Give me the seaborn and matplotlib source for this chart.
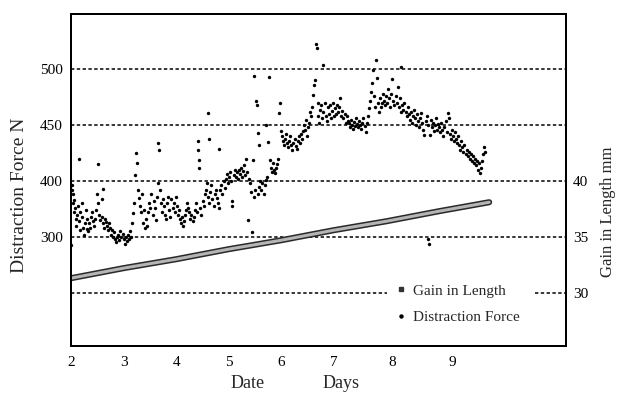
import matplotlib
matplotlib.use("Agg")
import matplotlib.pyplot as plt
import seaborn as sns
from matplotlib import patheffects as pe
from matplotlib.lines import Line2D

# ---------------- data ----------------
force_days = [
    2.00, 2.01, 2.02, 2.03, 2.04, 2.05, 2.06, 2.08, 2.09, 2.10, 2.12, 2.13, 2.15, 2.15, 2.17, 2.18, 2.20, 2.21, 2.23, 2.25,
    2.26, 2.28, 2.30, 2.31, 2.33, 2.35, 2.37, 2.38, 2.40, 2.42, 2.44, 2.46, 2.48, 2.50, 2.51, 2.52, 2.54, 2.56, 2.58, 2.59,
    2.60, 2.61, 2.62, 2.64, 2.66, 2.68, 2.70, 2.72, 2.74, 2.76, 2.78, 2.80, 2.82, 2.84, 2.86, 2.88, 2.90, 2.92, 2.94, 2.96,
    2.98,
    3.00, 3.02, 3.04, 3.06, 3.08, 3.10, 3.12, 3.14, 3.16, 3.18, 3.20, 3.22, 3.23, 3.25, 3.27, 3.29, 3.31, 3.33, 3.35, 3.37,
    3.39, 3.41, 3.43, 3.45, 3.47, 3.49, 3.51, 3.53, 3.55, 3.57, 3.59, 3.61, 3.63, 3.65, 3.66, 3.67, 3.69, 3.71, 3.73, 3.75,
    3.77, 3.79, 3.81, 3.83, 3.85, 3.87, 3.89,
    3.91, 3.93, 3.95, 3.97, 3.99, 4.01, 4.03, 4.05, 4.07, 4.09, 4.11, 4.13, 4.15, 4.17, 4.19, 4.21, 4.23, 4.25, 4.27, 4.29,
    4.31, 4.33, 4.35, 4.37, 4.39, 4.41, 4.42, 4.43, 4.44, 4.46, 4.48,
    4.50, 4.52, 4.54, 4.56, 4.58, 4.60, 4.61, 4.62, 4.63, 4.65, 4.67, 4.69, 4.71, 4.73, 4.75, 4.77, 4.79, 4.81, 4.82, 4.84,
    4.86, 4.88, 4.90, 4.92, 4.94, 4.96, 4.98, 5.00, 5.02, 5.04, 5.06, 5.07, 5.09, 5.11, 5.13, 5.15, 5.17, 5.19, 5.21, 5.23,
    5.25, 5.27, 5.29, 5.31, 5.33, 5.35, 5.37, 5.38,
    5.40, 5.42, 5.44, 5.46, 5.47, 5.48, 5.50, 5.52, 5.53, 5.55, 5.56, 5.57, 5.58, 5.60, 5.62, 5.64, 5.66, 5.68, 5.70, 5.71,
    5.73, 5.75, 5.76, 5.78, 5.80, 5.82, 5.84, 5.86, 5.88, 5.90,
    5.92, 5.94, 5.96, 5.97, 5.99, 6.01, 6.03, 6.05, 6.07, 6.09, 6.11, 6.13, 6.15, 6.17, 6.19, 6.21, 6.23, 6.25, 6.27, 6.29,
    6.31, 6.33, 6.35, 6.37, 6.39, 6.41, 6.43, 6.45, 6.47, 6.49, 6.51,
    6.53, 6.55, 6.57, 6.59, 6.61, 6.62, 6.64, 6.66, 6.67, 6.69, 6.70, 6.72, 6.74, 6.76, 6.78, 6.79, 6.80, 6.82, 6.84, 6.86,
    6.88, 6.90, 6.92, 6.94, 6.96, 6.98, 7.00, 7.02, 7.04, 7.06, 7.08, 7.10, 7.12, 7.14, 7.16, 7.18, 7.20, 7.22, 7.24, 7.26,
    7.28, 7.30, 7.32, 7.34, 7.36, 7.38, 7.40, 7.42, 7.44, 7.46, 7.48, 7.50, 7.52, 7.54, 7.56, 7.58, 7.60, 7.62, 7.64, 7.66,
    7.68, 7.70, 7.72, 7.74, 7.76, 7.78, 7.80, 7.81, 7.83, 7.85, 7.87, 7.89, 7.91, 7.93, 7.95, 7.97, 7.99, 8.01, 8.03, 8.05,
    8.07, 8.09, 8.11, 8.13, 8.15, 8.17, 8.19, 8.21, 8.23, 8.25, 8.27, 8.28, 8.30, 8.32,
    8.34, 8.36, 8.38, 8.40, 8.42, 8.44, 8.46, 8.48, 8.50, 8.52, 8.54, 8.56, 8.58, 8.60, 8.62, 8.64, 8.66, 8.68, 8.70, 8.72,
    8.74, 8.76, 8.78, 8.79, 8.80, 8.82, 8.84, 8.86, 8.88, 8.90, 8.92, 8.94, 8.96, 8.98,
    9.00, 9.02, 9.04, 9.06, 9.08, 9.10, 9.12, 9.14, 9.16, 9.18, 9.20, 9.22, 9.24, 9.26, 9.28, 9.30, 9.32, 9.34, 9.36, 9.38,
    9.40, 9.42, 9.44, 9.46, 9.48, 9.50, 9.52, 9.54, 9.56, 9.58, 9.60, 9.62, 9.64, 9.66, 9.68, 9.70, 9.72, 9.74, 9.76, 9.78,
    9.80, 9.82, 9.84, 9.86, 9.88,
]
force_values = [
    343, 396, 392, 388, 380, 372, 383, 376, 366, 360, 370, 378, 420, 364, 356, 372, 380, 368, 358, 352,
    362, 374, 366, 357, 355, 362, 358, 368, 372, 364, 360, 366, 374, 388, 415, 380, 370, 365, 368, 384,
    362, 393, 358, 366, 363, 360, 356, 362, 358, 352, 356, 350, 354, 348, 345, 350, 352, 347, 355, 350,
    353,
    348, 344, 350, 346, 352, 348, 355, 350, 362, 371, 380, 405, 425, 416, 392, 385, 378, 372, 388, 362,
    374, 358, 366, 360, 372, 380, 376, 388, 370, 382, 376, 365, 386, 398, 434, 428, 392, 380, 372, 384,
    378, 370, 366, 380, 386, 374, 368,
    384, 376, 380, 372, 386, 378, 370, 374, 366, 362, 368, 360, 364, 370, 374, 380, 376, 372, 366, 370,
    364, 368, 374, 380, 372, 436, 428, 419, 412, 376, 370,
    382, 378, 388, 392, 398, 461, 386, 438, 380, 390, 396, 384, 378, 388, 392, 385, 380, 429, 376, 392,
    396, 388, 400, 394, 402, 406, 398, 404, 408, 400, 378, 382, 405, 410, 404, 408, 402, 410, 406, 412,
    404, 409, 414, 405, 420, 408, 365, 402,
    398, 390, 354, 419, 386, 494, 392, 472, 468, 388, 443, 432, 395, 400, 392, 398, 388, 396, 450, 401,
    404, 435, 493, 419, 412, 408, 416, 410, 407, 412,
    415, 420, 461, 470, 445, 440, 436, 432, 438, 442, 434, 430, 436, 440, 432, 428, 434, 438, 431, 429,
    436, 440, 434, 442, 438, 445, 450, 446, 455, 440, 448,
    452, 462, 458, 466, 477, 486, 490, 523, 519, 470, 458, 452, 464, 468, 456, 504, 462, 470, 458, 454,
    466, 460, 468, 456, 463, 470, 458, 465, 460, 468, 462, 466, 474, 458, 463, 456, 460, 452, 458, 454,
    452, 448, 455, 450, 447, 453, 449, 456, 451, 448, 454, 450, 447, 452, 456, 449, 444, 452, 458, 465,
    472, 480, 488, 499, 476, 466, 508, 492, 470, 462, 474, 466, 470, 478, 472, 468, 476, 470, 482, 474,
    466, 478, 491, 472, 468, 476, 470, 484, 466, 474, 502, 462, 468, 464,
    470, 462, 458, 466, 460, 455, 462, 452, 458, 464, 456, 450, 460, 454, 448, 456, 461, 452, 446, 441,
    454, 458, 450, 348, 344, 441, 455, 448, 452, 445, 450, 456, 446, 451,
    448, 444, 452, 446, 440, 448, 454, 444, 461, 456, 442, 438, 446, 440, 436, 444, 438, 434, 440, 432,
    428, 436, 430, 426, 432, 424, 428, 422, 426, 420, 424, 418, 422, 416, 420, 414, 418, 410, 416, 407,
    412, 418, 424, 430, 426,
]

gain_days = [2.0, 3.0, 4.0, 5.0, 6.0, 7.0, 8.0, 9.0, 9.95]
gain_values = [31.3, 32.2, 33.0, 33.9, 34.7, 35.6, 36.4, 37.3, 38.1]

xtick_pos = [2, 3, 4, 5, 6, 7, 8.1, 9.24]
xtick_labels = ["2", "3", "4", "5", "6", "7", "8", "9"]
left_tick_pos = [350, 400, 450, 500]
left_tick_labels = ["300", "400", "450", "500"]
grid_levels = [350, 400, 450, 500]
right_ticks = [30, 35, 40]

# ---------------- figure ----------------
sns.set_theme(style="white")
plt.rcParams["font.family"] = ["Liberation Serif", "DejaVu Serif"]

fig = plt.figure(figsize=(6.19, 3.93), dpi=100)
W, H = 619, 393
ax = fig.add_axes([71 / W, 1 - 346 / H, (566 - 71) / W, (346 - 14) / H])

sns.scatterplot(x=force_days, y=force_values, ax=ax, s=6, color="black",
                linewidth=0, legend=False, zorder=3)

ax.set_xlim(2, 2 + 495 / 52.6)
ax.set_ylim(252.3, 549.5)

dash = dict(color="black", linewidth=1.1, linestyle=(0, (2.2, 1.6)), zorder=1)
for g in grid_levels:
    ax.axhline(g, **dash)
ax.axhline(300, xmin=0, xmax=(387 - 71) / 495, **dash)
ax.axhline(300, xmin=(535 - 71) / 495, xmax=1, **dash)

ax.set_xticks(xtick_pos)
ax.set_xticklabels(xtick_labels)
ax.set_yticks(left_tick_pos)
ax.set_yticklabels(left_tick_labels)
ax.tick_params(axis="both", length=0, labelsize=11, colors="black")
ax.tick_params(axis="x", pad=7)
ax.tick_params(axis="y", pad=6)
ax.set_xlabel("")
ax.set_ylabel("")

ax2 = ax.twinx()
ax2.set_ylim(25.23, 54.95)
sns.lineplot(x=gain_days, y=gain_values, ax=ax2, color="#b5b5b5", linewidth=2.2,
             path_effects=[pe.Stroke(linewidth=4.4, foreground="#2a2a2a"), pe.Normal()],
             legend=False)
ax2.set_yticks(right_ticks)
ax2.set_yticklabels([str(t) for t in right_ticks])
ax2.tick_params(axis="y", length=0, labelsize=11, colors="black", pad=5)
ax2.set_ylabel("")

for a in (ax, ax2):
    for s in a.spines.values():
        s.set_color("black")
        s.set_linewidth(1.4)

handles = [
    Line2D([], [], marker="s", markersize=3.2, color="#333333", linestyle="none"),
    Line2D([], [], marker="o", markersize=2.2, color="black", linestyle="none"),
]
ax2.legend(handles, ["Gain in Length", "Distraction Force"], loc="upper left",
           bbox_to_anchor=(392 / W, 1 - 281 / H), bbox_transform=fig.transFigure,
           frameon=False, fontsize=11, handlelength=0.8, handletextpad=0.35,
           labelspacing=0.85, borderpad=0.2, borderaxespad=0)

fig.text(20 / W, 1 - 195 / H, "Distraction Force N", rotation=90, ha="center",
         va="center", fontsize=14)
fig.text(608 / W, 1 - 212 / H, "Gain in Length mm", rotation=90, ha="center",
         va="center", fontsize=12)
fig.text(248 / W, 1 - 383 / H, "Date", ha="center", va="center", fontsize=13)
fig.text(341 / W, 1 - 383 / H, "Days", ha="center", va="center", fontsize=13)

fig.savefig("out.png", dpi=100)
